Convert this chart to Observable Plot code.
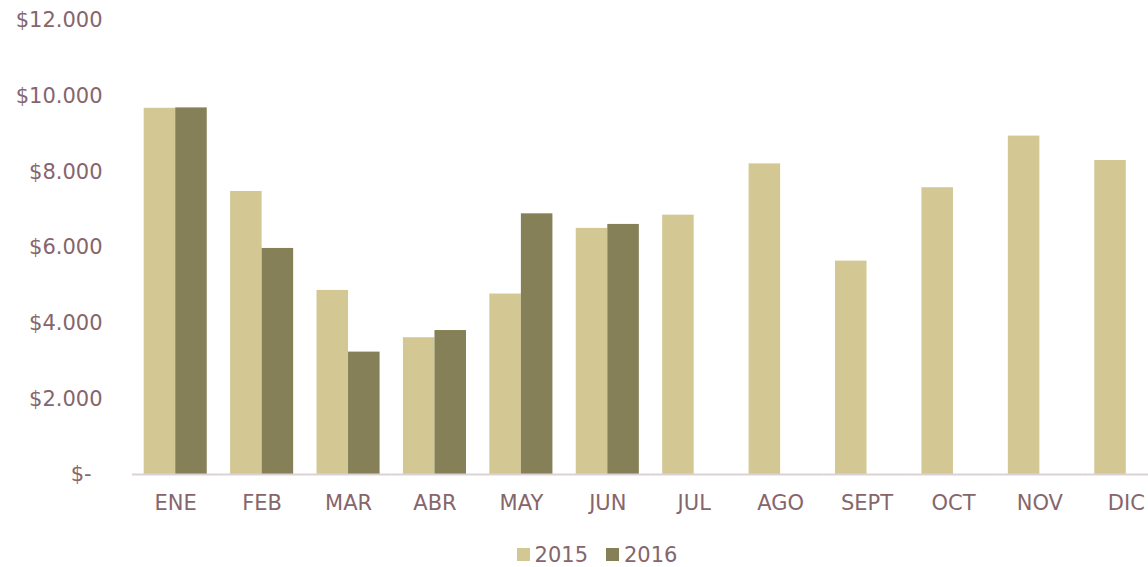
<!DOCTYPE html>
<html>
<head>
<meta charset="utf-8">
<script src="https://cdn.jsdelivr.net/npm/d3@7"></script>
<script src="https://cdn.jsdelivr.net/npm/@observablehq/plot@0.6"></script>
<style>
  html, body { margin: 0; padding: 0; background: #fff; overflow: hidden; }
  #chart { width: 1148px; height: 530px; overflow: hidden; }
  #legend { height: 37px; margin-top: 6px; display: flex; justify-content: center; align-items: center;
    font-family: "DejaVu Sans", sans-serif; font-size: 21px; color: #86656b; padding-left: 46px; }
  .item { display: inline-flex; align-items: center; margin: 0 9px; }
  .sw { display: inline-block; width: 13px; height: 13px; margin-right: 5px; }
</style>
</head>
<body>
<div id="chart"></div>
<div id="legend"></div>
<script>
const months = ["ENE","FEB","MAR","ABR","MAY","JUN","JUL","AGO","SEPT","OCT","NOV","DIC"];
const years = ["2015","2016"];
const values2015 = [9680, 7480, 4865, 3615, 4770, 6505, 6855, 8210, 5640, 7580, 8945, 8300];
const values2016 = [9690, 5975, 3235, 3805, 6890, 6610, null, null, null, null, null, null];
const yTicks = [0, 2000, 4000, 6000, 8000, 10000, 12000];
const colors = ["#d3c893", "#858057"];

const data = [];
months.forEach((m, i) => {
  if (values2015[i] != null) data.push({month: m, year: "2015", value: values2015[i]});
  if (values2016[i] != null) data.push({month: m, year: "2016", value: values2016[i]});
});

const fmt = v => v === 0 ? "$-\u00a0\u2009" : "$" + d3.format(",")(v).replace(/,/g, ".");

const chart = Plot.plot({
  width: 1148,
  height: 530,
  marginLeft: 132,
  marginRight: -21,
  marginTop: 20,
  marginBottom: 56,
  style: {fontFamily: "'DejaVu Sans', sans-serif", fontSize: "21px", color: "#86656b", background: "transparent", overflow: "visible"},
  fx: {domain: months, padding: 0, round: false, label: null, tickSize: 0, tickPadding: 21, axis: "bottom"},
  x: {domain: years, axis: null, round: false, paddingInner: 0, paddingOuter: 0.37},
  y: {domain: [0, 12000], ticks: yTicks, tickFormat: fmt, tickSize: 0, tickPadding: 30, label: null},
  color: {domain: years, range: colors},
  marks: [
    Plot.barY(data, {fx: "month", x: "year", y: "value", fill: "year"}),
    Plot.ruleY([0], {stroke: "#dcd2d5", strokeWidth: 2})
  ]
});
chart.querySelectorAll("text").forEach(t => t.setAttribute("fill", "#86656b"));
document.getElementById("chart").appendChild(chart);

const legend = document.getElementById("legend");
years.forEach((y, i) => {
  const span = document.createElement("span");
  span.className = "item";
  span.innerHTML = `<span class="sw" style="background:${colors[i]}"></span>${y}`;
  legend.appendChild(span);
});
</script>
</body>
</html>
